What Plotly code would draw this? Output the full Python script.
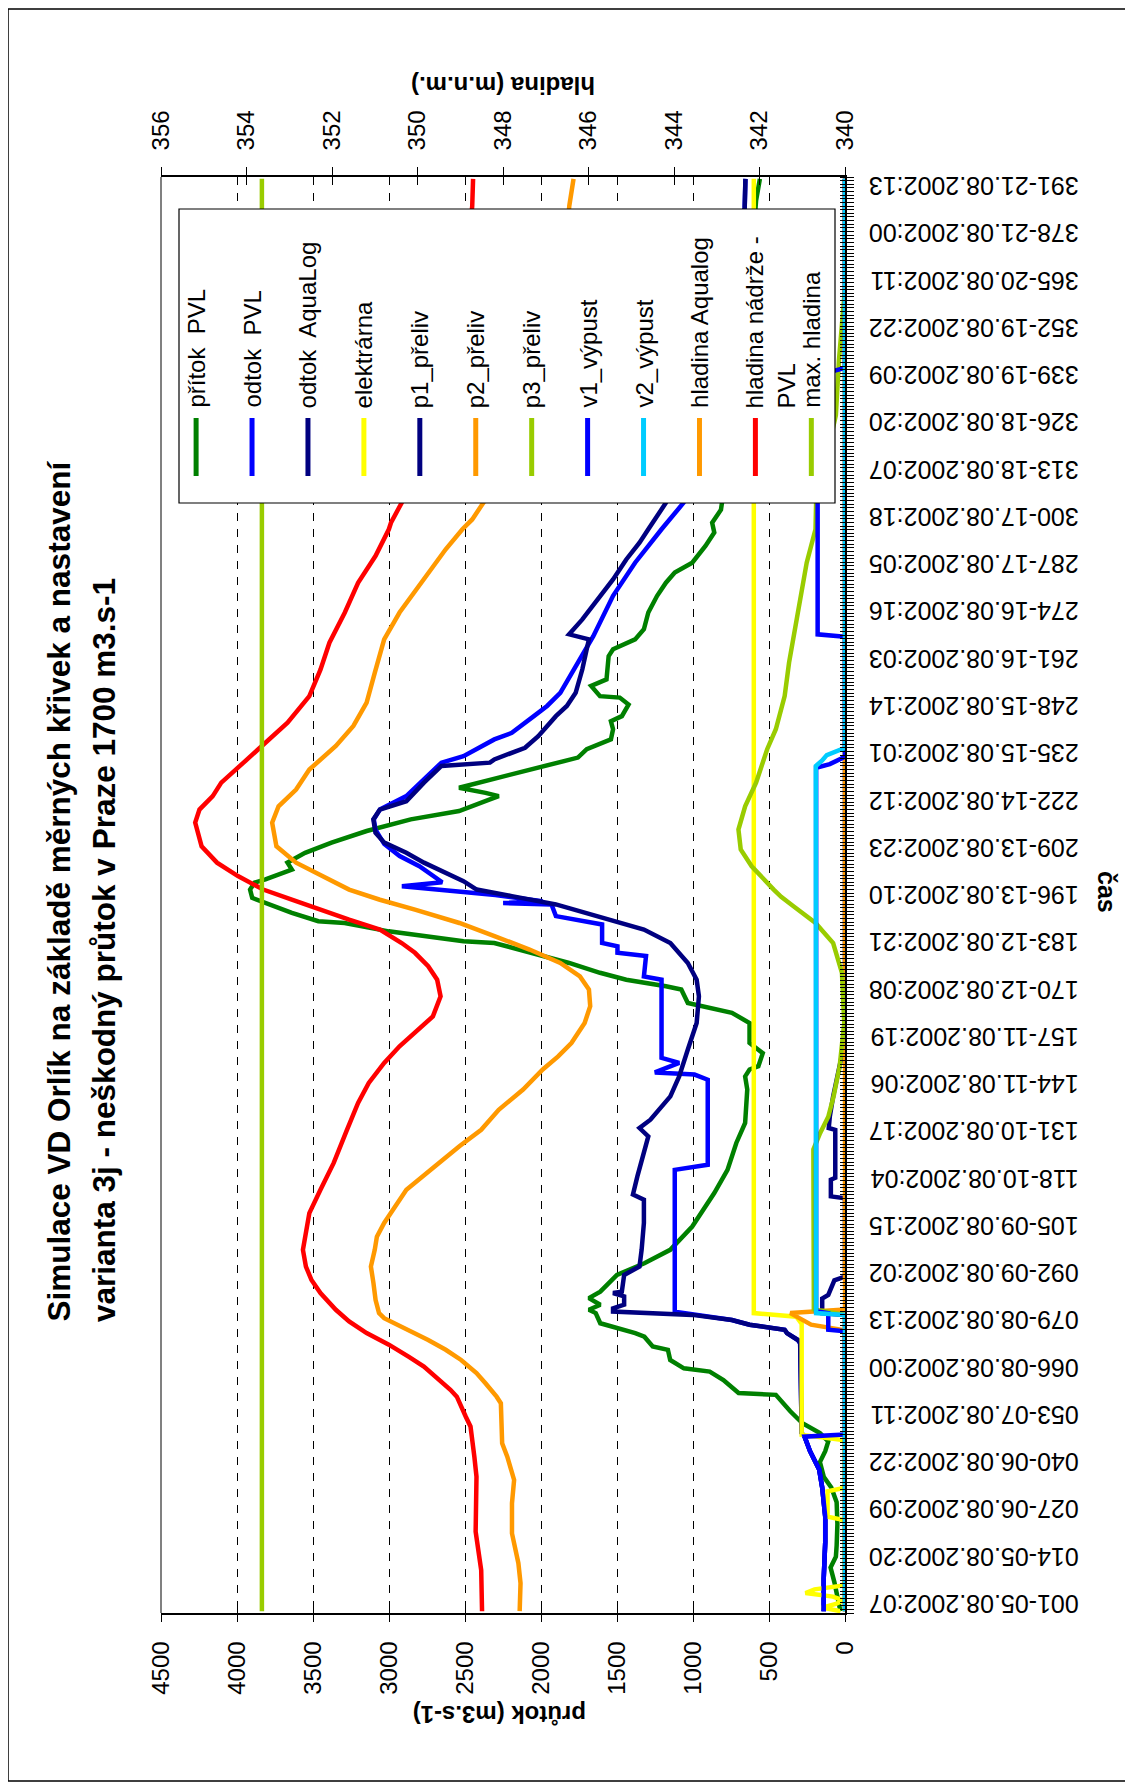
import plotly.graph_objects as go

# ---------------- data (hour index, value) ----------------
pritok_PVL = [(1,30),(3,40),(5,45),(9,70),(13,95),(16,60),(19,55),(25,50),(31,55),(35,90),(38,140),(42,165),(45,130),(47.7,110),(50,165),(52.7,280),(56,360),(60.5,455),(61,700),(64.6,800),(66.9,890),(67.8,1060),(70.1,1150),(72.9,1165),(73.8,1265),(76.5,1320),(77.5,1380),(78.8,1500),(80.2,1610),(83,1640),(83.9,1685),(85.3,1610),(87.1,1685),(88.9,1610),(93.5,1500),(96.7,1320),(100.4,1150),(106.8,1005),(116,860),(122.4,773),(129.8,715),(135.3,657),(144.5,643),(148.1,657),(150,628),(150.9,570),(154.5,541),(157.3,628),(162.8,628),(165.6,744),(166.9,889),(168.3,1034),(172,1077),(172.9,1178),(174.7,1439),(176.6,1612),(179.3,1815),(181.6,2018),(184.8,2307),(185.3,2510),(188,3002),(190.3,3292),(190.8,3465),(193.1,3639),(195.8,3813),(197.2,3900),(199.5,3914),(201.4,3885),(202.3,3813),(205,3639),(206.9,3668),(209.6,3552),(212.4,3378),(215.6,3147),(218.8,2857),(221.1,2539),(224.3,2336),(225.2,2278),(226.1,2365),(227.5,2539),(230.3,2278),(233.5,1960),(235.8,1757),(238.1,1699),(240.8,1540),(243.6,1526),(245.8,1540),(247.2,1468),(250.4,1424),(252.3,1482),(252.7,1612),(255.5,1670),(257.3,1569),(263.7,1555),(265.6,1526),(268.3,1381),(271.1,1323),(275.7,1294),(280.3,1236),(283.9,1178),(286.7,1120),(289.4,1005),(294,918),(297.7,860),(300.4,874),(304,816),(320,760),(340,700),(360,650),(375,610),(389,585),(395,560)]

odtok_PVL = [(1,140),(10,140),(20,130),(27,130),(35,150),(40,170),(45,230),(49,266),(50,285),(74.7,295),(75.6,310),(77.5,382),(78.4,397),(79.8,628),(81.1,744),(82.5,1005),(83.4,1120),(122.4,1120),(123.8,903),(147.2,903),(148.6,990),(149.2,1251),(151.8,1091),(153.2,1207),(174.7,1207),(175.6,1323),(181.2,1309),(182.1,1497),(183.9,1497),(184.8,1598),(189.9,1598),(192.2,1902),(195.4,1931),(195.8,2249),(196.3,1990),(198,2300),(200.4,2915),(201.5,2650),(203.2,2713),(205.9,2800),(208.7,2930),(212,3031),(216,3089),(218.8,3100),(221.5,3060),(225.2,2886),(234.4,2655),(236.2,2510),(240.8,2307),(242.6,2192),(247.2,2047),(250,1960),(253.6,1873),(260.1,1786),(269.2,1656),(280.3,1526),(289.4,1381),(298.6,1207),(305.9,1062),(320,950),(340,830),(360,740),(380,675),(387,660),(395,655)]

odtok_AquaLog = [(1,140),(10,140),(20,130),(27,130),(35,150),(40,170),(45,230),(49,266),(50,285),(74.7,295),(75.6,310),(77.5,382),(78.4,397),(79.8,628),(81.1,744),(82.5,1005),(83.4,1526),(84.3,1526),(85.3,1453),(87.6,1453),(88.5,1526),(88.9,1468),(93.5,1453),(95.8,1352),(100.4,1338),(107.8,1323),(114.2,1323),(115.6,1395),(120.6,1366),(127.9,1323),(131.6,1294),(133.9,1352),(136.2,1280),(142.6,1149),(148.1,1091),(155.5,1034),(162.8,976),(170.1,961),(174.7,976),(179.3,1034),(184.8,1149),(188.5,1323),(191.2,1555),(195.4,1902),(197.7,2192),(199.5,2423),(201.8,2510),(206.9,2770),(209.6,2886),(212.4,3031),(215.1,3089),(218.8,3103),(221.5,3060),(223.8,2886),(228.9,2770),(233.5,2655),(234.4,2336),(235.3,2307),(238.5,2105),(241.7,2018),(247.2,1902),(250,1830),(253.6,1772),(260.1,1728),(268.3,1685),(269.7,1815),(273.8,1728),(278.4,1641),(284.8,1526),(290.3,1439),(294.9,1352),(298.6,1294),(305.9,1178),(320,1040),(340,890),(360,770),(380,690),(387,660),(395,655)]

elektrarna = [(1,30),(2,150),(3,60),(4,10),(5,80),(6,260),(7,200),(8,20),(9,0),(26,0),(27,115),(34,115),(35,0),(48,0),(49.5,285),(80,285),(82,320),(83,600),(395,600)]

p1_preliv = [(1,0),(82.5,0),(83,150),(87,150),(88,110),(92,70),(93,0),(114.6,0),(115.1,93),(119.7,93),(120.2,64),(133.4,64),(133.9,107),(137,100),(142.6,78),(150.9,35),(158,0),(395,0)]

p2_preliv = [(1,0),(78,0),(78.4,20),(79.8,223),(82.5,339),(83,360),(84,0),(395,0)]

p3_preliv = [(1,0),(82.5,0),(84,205),(128,208),(132.5,164),(137,110),(142.6,75),(150.9,35),(162.8,5),(176.6,20),(184.8,78),(190.3,194),(194.9,339),(197.5,420),(199.5,469),(201.4,512),(205.9,614),(210.5,686),(216,701),(222.4,657),(228.9,585),(238.1,512),(243.6,455),(252.7,397),(261.9,368),(275.7,310),(289.4,252),(298.6,194),(306,190),(330,60),(345,40),(365,0),(395,0)]

v1_vypust = [(1,140),(10,140),(20,130),(27,130),(35,150),(40,170),(45,230),(49,266),(49.6,0),(78,0),(78.4,110),(83,110),(83.5,190),(233,190),(234,100),(236,0),(269,0),(269.7,180),(341,180),(343,0),(395,0)]

v2_vypust = [(1,0),(82.5,0),(83,190),(233.5,192),(235,150),(236.5,120),(238.5,0),(395,0)]

hladina_Aqualog = [(1,347.61),(8.7,347.59),(14.2,347.64),(22.4,347.79),(30.7,347.79),(37.1,347.74),(43.5,347.9),(47.2,348.02),(58.2,348.05),(60,348.15),(63.7,348.41),(66.5,348.62),(70.1,348.98),(72.9,349.34),(75.6,349.75),(78.4,350.21),(81.6,350.78),(83,350.9),(86.6,350.98),(91.2,351.03),(95.8,351.09),(100.4,351.0),(104,350.95),(107.8,350.78),(111.4,350.57),(116.9,350.26),(123.4,349.59),(128.9,349.02),(133.4,348.51),(138.9,348.1),(144.5,347.53),(150,347.07),(153.6,346.71),(157.3,346.4),(162.8,346.09),(167.4,345.96),(172,345.99),(175.6,346.2),(179.3,346.66),(183,347.38),(186.7,348.2),(190.3,349.02),(194,350.06),(196.7,350.88),(199.5,351.6),(203.2,352.22),(206.9,352.84),(211.4,353.3),(217.9,353.4),(222.4,353.25),(227,352.84),(232.5,352.53),(239,351.91),(244.5,351.5),(250.9,351.19),(259.1,351.0),(268.3,350.78),(275.7,350.42),(284.8,349.85),(293.1,349.34),(298.6,348.95),(301.3,348.72),(305.9,348.46),(320,347.8),(340,347.1),(360,346.7),(380,346.5),(387.5,346.45),(395,346.35)]

hladina_nadrze_PVL = [(1,348.49),(12.3,348.51),(22.9,348.64),(38,348.62),(43.5,348.67),(51.8,348.76),(54.5,348.87),(60,349.08),(61.9,349.23),(64.6,349.49),(68.3,349.85),(71,350.21),(74.3,350.67),(77.5,351.19),(80.7,351.6),(83.9,351.91),(88.5,352.27),(92.1,352.48),(95.8,352.61),(100.4,352.68),(102.3,352.65),(110.5,352.53),(116.9,352.27),(124.3,351.96),(133.4,351.65),(140.8,351.39),(146.3,351.14),(151.8,350.78),(156.4,350.42),(161,350.0),(164.6,349.64),(170.1,349.46),(174.7,349.54),(178.4,349.75),(182.1,350.06),(184.8,350.37),(188.5,350.88),(191.2,351.6),(194,352.32),(196.7,352.94),(199.5,353.61),(203.2,354.2),(206.9,354.69),(211.4,355.05),(217.9,355.2),(221.5,355.1),(225.2,354.79),(228.9,354.59),(234.4,354.07),(239.9,353.56),(245.4,353.04),(252.7,352.53),(260,352.27),(267.4,352.06),(275.7,351.7),(283.9,351.39),(291.3,350.98),(298.6,350.67),(300.4,350.62),(305.9,350.37),(320,349.95),(340,349.4),(360,349.0),(380,348.78),(387.5,348.72),(395,348.7)]

max_hladina = [(1,353.64),(395,353.64)]

prutok_ticks = [0, 500, 1000, 1500, 2000, 2500, 3000, 3500, 4000, 4500]
hladina_ticks = [340, 342, 344, 346, 348, 350, 352, 354, 356]
cas_tickvals = [1,14,27,40,53,66,79,92,105,118,131,144,157,170,183,196,209,222,235,248,261,274,287,300,313,326,339,352,365,378,391]
cas_ticktext = ["001-05.08.2002:07","014-05.08.2002:20","027-06.08.2002:09","040-06.08.2002:22",
                "053-07.08.2002:11","066-08.08.2002:00","079-08.08.2002:13","092-09.08.2002:02",
                "105-09.08.2002:15","118-10.08.2002:04","131-10.08.2002:17","144-11.08.2002:06",
                "157-11.08.2002:19","170-12.08.2002:08","183-12.08.2002:21","196-13.08.2002:10",
                "209-13.08.2002:23","222-14.08.2002:12","235-15.08.2002:01","248-15.08.2002:14",
                "261-16.08.2002:03","274-16.08.2002:16","287-17.08.2002:05","300-17.08.2002:18",
                "313-18.08.2002:07","326-18.08.2002:20","339-19.08.2002:09","352-19.08.2002:22",
                "365-20.08.2002:11","378-21.08.2002:00","391-21.08.2002:13"]
n_hours = 395

series = [
    ("přítok\u00a0 PVL", pritok_PVL, "#008000", "x"),
    ("odtok\u00a0 PVL", odtok_PVL, "#0000FF", "x"),
    ("odtok\u00a0 AquaLog", odtok_AquaLog, "#000080", "x"),
    ("elektrárna", elektrarna, "#FFFF00", "x"),
    ("p1_přeliv", p1_preliv, "#000080", "x"),
    ("p2_přeliv", p2_preliv, "#FF9900", "x"),
    ("p3_přeliv", p3_preliv, "#99CC00", "x"),
    ("v1_výpust", v1_vypust, "#0000FF", "x"),
    ("v2_výpust", v2_vypust, "#00CCFF", "x"),
    ("hladina Aqualog", hladina_Aqualog, "#FF9900", "x2"),
    ("hladina nádrže -<br>PVL", hladina_nadrze_PVL, "#FF0000", "x2"),
    ("max. hladina", max_hladina, "#99CC00", "x2"),
]

# ---------------- layout geometry (reference pixel coords) ----------------
OFF = 8                      # browser body margin
FW, FH = 1133 - OFF, 1787 - OFF
L, R, T, B = 161, 845, 177, 1613
FONT = "Liberation Sans, Arial, sans-serif"

def px(x):
    return (x - L) / (R - L)

def py(y):
    return (B - y) / (B - T)

fig = go.Figure()
for name, data, color, xa in series:
    fig.add_trace(go.Scatter(
        x=[v for _, v in data], y=[h for h, _ in data],
        mode="lines", name=name.replace("<br>", " "),
        line=dict(color=color, width=4.5),
        xaxis=xa, yaxis="y", showlegend=False, hoverinfo="skip"))

tickfont = dict(family=FONT, size=24, color="black")
fig.update_layout(
    width=FW, height=FH,
    margin=dict(l=L - OFF, r=FW - (R - OFF), t=T - OFF, b=FH - (B - OFF), pad=0),
    paper_bgcolor="white", plot_bgcolor="white",
    font=dict(family=FONT, color="black"),
    xaxis=dict(domain=[0, 1], range=[4500, 0], tickmode="array", tickvals=prutok_ticks,
               tickangle=-90, ticks="outside", ticklen=7, tickcolor="black", tickwidth=1,
               showline=True, linecolor="black", linewidth=1.5,
               showgrid=True, gridcolor="black", griddash="8px,8px", gridwidth=1,
               zeroline=False, tickfont=tickfont, ticklabelstandoff=10, anchor="y"),
    xaxis2=dict(overlaying="x", side="top", range=[356, 340], tickmode="array",
                tickvals=hladina_ticks, tickangle=-90, ticks="outside", ticklen=8,
                tickcolor="black", showline=True, linecolor="black", linewidth=1.5,
                showgrid=False, zeroline=False, tickfont=tickfont, anchor="y",
                ticklabelstandoff=12),
    xaxis3=dict(overlaying="x", side="bottom", range=[4500, 0], tickmode="array",
                tickvals=prutok_ticks, ticks="inside", ticklen=7, tickcolor="black",
                showticklabels=False, showgrid=False, zeroline=False, showline=False, anchor="y"),
    xaxis4=dict(overlaying="x", side="top", range=[356, 340], tickmode="array",
                tickvals=hladina_ticks, ticks="inside", ticklen=8, tickcolor="black",
                showticklabels=False, showgrid=False, zeroline=False, showline=False, anchor="y"),
    yaxis=dict(domain=[0, 1], range=[0.5, n_hours + 0.5], side="right", anchor="x",
               tickmode="array", tickvals=cas_tickvals, ticktext=cas_ticktext,
               tickangle=180, ticks="", showline=True, linecolor="black", linewidth=1.5,
               showgrid=False, zeroline=False,
               tickfont=dict(family=FONT, size=25, color="black"), ticklabelstandoff=227,
               minor=dict(tickmode="linear", tick0=0.5, dtick=1, ticks="outside",
                          ticklen=7, tickcolor="black", tickwidth=1, showgrid=False)),
    yaxis2=dict(overlaying="y", range=[0.5, n_hours + 0.5], side="right", anchor="x",
                tickmode="array", tickvals=[], showticklabels=False, ticks="",
                showgrid=False, zeroline=False, showline=False,
                minor=dict(tickmode="linear", tick0=0.5, dtick=1, ticks="inside",
                           ticklen=5, tickcolor="black", tickwidth=1, showgrid=False)),
)
# empty traces so the overlay tick axes render
fig.add_trace(go.Scatter(x=[None], y=[None], xaxis="x3", yaxis="y", showlegend=False))
fig.add_trace(go.Scatter(x=[None], y=[None], xaxis="x4", yaxis="y", showlegend=False))
fig.add_trace(go.Scatter(x=[None], y=[None], xaxis="x", yaxis="y2", showlegend=False))

shapes = []
# outer chart border
shapes.append(dict(type="rect", xref="paper", yref="paper", x0=px(OFF), x1=px(1126),
                   y0=py(1781), y1=py(OFF + 1), line=dict(color="black", width=1.5),
                   fillcolor="rgba(0,0,0,0)", layer="below"))
# plot-area gray edge
shapes.append(dict(type="line", xref="paper", yref="paper", x0=0, x1=0, y0=0, y1=1,
                   line=dict(color="#808080", width=2), layer="above"))
# legend box
LG_L, LG_R, LG_T, LG_B = 179, 835, 209, 503
shapes.append(dict(type="rect", xref="paper", yref="paper", x0=px(LG_L), x1=px(LG_R),
                   y0=py(LG_B), y1=py(LG_T), line=dict(color="black", width=1.2),
                   fillcolor="white", layer="above"))
annotations = []
sw_x0 = 196.1
sw_dx = 55.93
for i, (name, data, color, xa) in enumerate(series):
    cx = sw_x0 + i * sw_dx
    shapes.append(dict(type="line", xref="paper", yref="paper", x0=px(cx), x1=px(cx),
                       y0=py(476), y1=py(418), line=dict(color=color, width=5), layer="above"))
    two = "<br>" in name
    annotations.append(dict(xref="paper", yref="paper", x=px(cx + (15 if two else 0)), y=py(410),
                            text=name, textangle=-90, showarrow=False, xanchor="center",
                            yanchor="bottom", align="left",
                            font=dict(family=FONT, size=24, color="black")))

# titles
title_font = dict(family=FONT, size=31.5, color="black")
annotations.append(dict(xref="paper", yref="paper", x=px(58), y=py(1324),
                        text="<b>Simulace VD Orlík na základě měrných křivek a nastavení</b>",
                        textangle=-90, showarrow=False, xanchor="center", yanchor="bottom",
                        font=title_font))
annotations.append(dict(xref="paper", yref="paper", x=px(104), y=py(1324),
                        text="<b>varianta 3j - neškodný průtok v Praze 1700 m3.s-1</b>",
                        textangle=-90, showarrow=False, xanchor="center", yanchor="bottom",
                        font=title_font))
annotations.append(dict(xref="paper", yref="paper", x=px(500), y=py(1715),
                        text="<b>průtok (m3.s-1)</b>", textangle=180, showarrow=False,
                        xanchor="center", yanchor="middle",
                        font=dict(family=FONT, size=24, color="black")))
annotations.append(dict(xref="paper", yref="paper", x=px(503), y=py(86),
                        text="<b>hladina (m.n.m.)</b>", textangle=180, showarrow=False,
                        xanchor="center", yanchor="middle",
                        font=dict(family=FONT, size=24, color="black")))
annotations.append(dict(xref="paper", yref="paper", x=px(1107), y=py(892),
                        text="<b>čas</b>", textangle=90, showarrow=False,
                        xanchor="center", yanchor="middle",
                        font=dict(family=FONT, size=25, color="black")))

fig.update_layout(shapes=shapes, annotations=annotations)
fig.write_html("out.html")
